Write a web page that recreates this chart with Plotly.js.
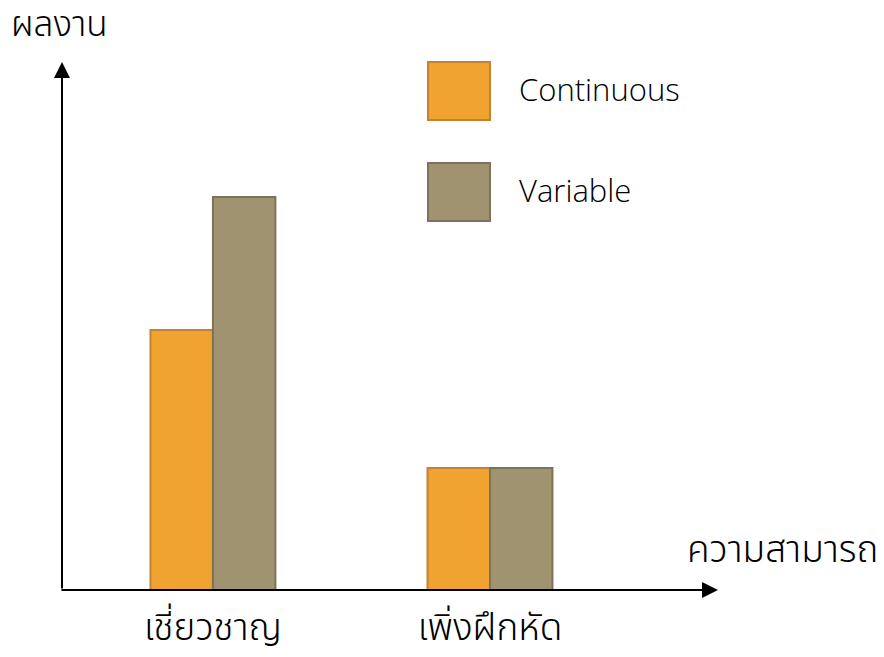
<!DOCTYPE html>
<html>
<head>
<meta charset="utf-8">
<script src="https://cdn.plot.ly/plotly-3.0.1.min.js"></script>
<style>html,body{margin:0;padding:0;background:#fff;}#chart{width:884px;height:657px;}</style>
</head>
<body>
<div id="chart"></div>
<script>
const categories = ["เชี่ยวชาญ", "เพิ่งฝึกหัด"];
const seriesNames = ["Continuous", "Variable"];
const continuousValues = [2.6, 1.22];
const variableValues = [3.93, 1.22];
const yAxisTitle = "ผลงาน";
const xAxisTitle = "ความสามารถ";

const fillColors = ["#F0A330", "#A09470"];
const lineColors = ["#C48230", "#7D7358"];
const thaiFont = "Noto Sans Thai, Noto Sans, DejaVu Sans, sans-serif";
const latinFont = "Open Sans, Liberation Sans, Arial, sans-serif";

const traces = [
  {type: "bar", name: seriesNames[0], x: categories, y: continuousValues,
   marker: {color: fillColors[0], line: {color: lineColors[0], width: 2}}, hoverinfo: "none"},
  {type: "bar", name: seriesNames[1], x: categories, y: variableValues,
   marker: {color: fillColors[1], line: {color: lineColors[1], width: 2}}, hoverinfo: "none"}
];

const W = 884, H = 657;
const m = {l: 60, r: 166, t: 62, b: 67};
const pw = W - m.l - m.r, ph = H - m.t - m.b;
function px(x) { return (x - m.l) / pw; }
function py(y) { return (H - m.b - y) / ph; }

const legendTop = [62, 163];
const shapes = [];
const annotations = [];
seriesNames.forEach((n, i) => {
  shapes.push({type: "rect", xref: "paper", yref: "paper",
    x0: px(428), x1: px(490), y0: py(legendTop[i] + 58), y1: py(legendTop[i]),
    fillcolor: fillColors[i], line: {color: lineColors[i], width: 2}});
  annotations.push({xref: "paper", yref: "paper", x: px(517), y: py(legendTop[i] + 27),
    xanchor: "left", yanchor: "middle", text: n, showarrow: false,
    font: {family: latinFont, size: 31, color: "#000", weight: 300}});
});
// axis arrows
annotations.push({xref: "paper", yref: "paper", x: px(62), y: py(62), ax: 0, ay: 528,
  axref: "pixel", ayref: "pixel", showarrow: true, arrowhead: 2, arrowsize: 1.6,
  arrowwidth: 2, arrowcolor: "#000", text: ""});
annotations.push({xref: "paper", yref: "paper", x: px(718), y: py(590), ax: -658, ay: 0,
  showarrow: true, arrowhead: 2, arrowsize: 1.6, arrowwidth: 2, arrowcolor: "#000", text: ""});
annotations.push({xref: "paper", yref: "paper", x: px(9), y: py(25), xanchor: "left", yanchor: "middle",
  text: yAxisTitle, showarrow: false, font: {family: thaiFont, size: 35, color: "#000", weight: 300}});
annotations.push({xref: "paper", yref: "paper", x: px(880), y: py(551), xanchor: "right", yanchor: "middle",
  text: xAxisTitle, showarrow: false, font: {family: thaiFont, size: 37, color: "#000", weight: 300}});

const layout = {
  width: W, height: H, margin: m, paper_bgcolor: "#fff", plot_bgcolor: "#fff",
  showlegend: false, barmode: "group", bargap: 0.549, bargroupgap: 0,
  xaxis: {type: "category", range: [-0.552, 1.823], showgrid: false, zeroline: false,
    showline: false, ticks: "", tickfont: {family: thaiFont, size: 37, color: "#000", weight: 300},
    ticklabelstandoff: 12, fixedrange: true},
  yaxis: {range: [0, 5.28], showgrid: false, zeroline: false, showline: false,
    showticklabels: false, ticks: "", fixedrange: true},
  shapes: shapes, annotations: annotations
};
Plotly.newPlot("chart", traces, layout, {staticPlot: true, displayModeBar: false});
</script>
</body>
</html>
